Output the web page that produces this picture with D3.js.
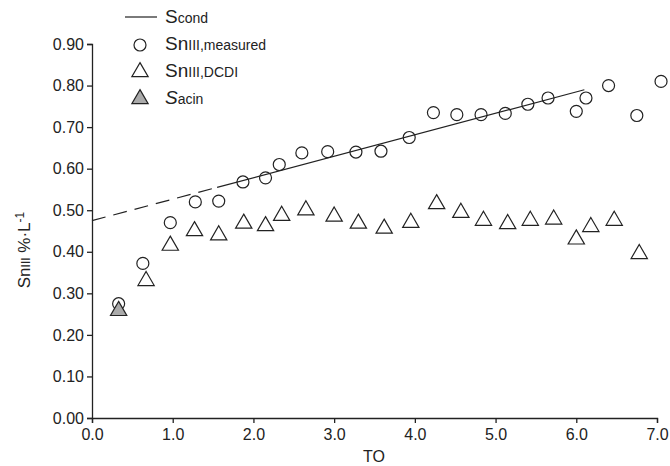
<!DOCTYPE html>
<html><head><meta charset="utf-8">
<script src="https://cdn.jsdelivr.net/npm/d3@7"></script>
<style>body{margin:0;background:#fff}text{font-family:"Liberation Sans",Arial,sans-serif;fill:#222}</style>
</head><body><svg id="c" width="670" height="466"></svg>
<script>
const measX = [0.33,0.63,0.97,1.28,1.57,1.87,2.15,2.32,2.6,2.92,3.27,3.58,3.93,4.23,4.52,4.82,5.12,5.4,5.65,6.0,6.12,6.4,6.75,7.05];
const measY = [0.275,0.372,0.47,0.52,0.522,0.568,0.578,0.61,0.638,0.641,0.64,0.642,0.675,0.735,0.73,0.73,0.733,0.755,0.77,0.738,0.77,0.80,0.728,0.81];
const dcdiX = [0.67,0.97,1.27,1.57,1.88,2.15,2.35,2.65,3.0,3.3,3.62,3.95,4.27,4.57,4.85,5.15,5.43,5.72,6.0,6.18,6.47,6.78];
const dcdiY = [0.33,0.415,0.45,0.44,0.468,0.462,0.487,0.50,0.485,0.468,0.456,0.47,0.515,0.494,0.475,0.467,0.475,0.478,0.43,0.46,0.475,0.395];
const acin = [[0.33,0.258]];
const condSolid = [[1.55,0.555],[6.1,0.79]];
const condDash = [[0,0.475],[1.55,0.555]];
const xTicks = [0,1,2,3,4,5,6,7];
const yTicks = [0,0.1,0.2,0.3,0.4,0.5,0.6,0.7,0.8,0.9];

const svg = d3.select("#c");
const x = d3.scaleLinear().domain([0,7]).range([92,657]);
const y = d3.scaleLinear().domain([0,0.9]).range([418,44]);

svg.append("g").attr("transform","translate(0,418)")
  .call(d3.axisBottom(x).tickValues(xTicks).tickFormat(d3.format(".1f")).tickSizeOuter(0).tickSize(5))
  .call(g=>g.selectAll("text").style("font-size","16px").attr("dy","0.9em"));
svg.append("g").attr("transform","translate(92,0)")
  .call(d3.axisLeft(y).tickValues(yTicks).tickFormat(d3.format(".2f")).tickSizeOuter(0).tickSize(5))
  .call(g=>g.selectAll("text").style("font-size","16px"));
svg.selectAll(".domain,.tick line").attr("stroke","#222").attr("stroke-width",1.3);

const line = d3.line().x(d=>x(d[0])).y(d=>y(d[1]));
svg.append("path").attr("d",line(condDash)).attr("fill","none").attr("stroke","#222").attr("stroke-width",1.2).attr("stroke-dasharray","14,8");
svg.append("path").attr("d",line(condSolid)).attr("fill","none").attr("stroke","#222").attr("stroke-width",1.2);

svg.append("g").selectAll("circle").data(measX).join("circle")
  .attr("cx",d=>x(d)).attr("cy",(d,i)=>y(measY[i])).attr("r",6)
  .attr("fill","none").attr("stroke","#222").attr("stroke-width",1.2);
const tri = d3.symbol().type(d3.symbolTriangle).size(115);
svg.append("g").selectAll("path").data(dcdiX).join("path")
  .attr("d",tri).attr("transform",(d,i)=>`translate(${x(d)},${y(dcdiY[i])})`)
  .attr("fill","#fff").attr("stroke","#222").attr("stroke-width",1.2);
svg.append("g").selectAll("path").data(acin).join("path")
  .attr("d",tri).attr("transform",d=>`translate(${x(d[0])},${y(d[1])})`)
  .attr("fill","#aaa").attr("stroke","#222").attr("stroke-width",1.2);

// legend
const lg = svg.append("g");
lg.append("line").attr("x1",125).attr("x2",157).attr("y1",17).attr("y2",17).attr("stroke","#222").attr("stroke-width",1.2);
lg.append("circle").attr("cx",140).attr("cy",45).attr("r",6).attr("fill","none").attr("stroke","#222").attr("stroke-width",1.2);
lg.append("path").attr("d",tri).attr("transform","translate(140,72)").attr("fill","#fff").attr("stroke","#222").attr("stroke-width",1.2);
lg.append("path").attr("d",tri).attr("transform","translate(140,99)").attr("fill","#aaa").attr("stroke","#222").attr("stroke-width",1.2);
const labels = [["S","cond",false],["Sn","III,measured",false],["Sn","III,DCDI",false],["S","acin",true]];
labels.forEach((l,i)=>{
  const t = lg.append("text").attr("x",165).attr("y",23+i*27);
  t.append("tspan").text(l[0]).style("font-size","19px").style("font-style",l[2]?"italic":"normal");
  t.append("tspan").text(l[1]).style("font-size","14px");
});

svg.append("text").attr("x",374).attr("y",462).attr("text-anchor","middle").style("font-size","16px").text("TO");
const yl = svg.append("text").attr("transform","translate(30,250) rotate(-90)").attr("text-anchor","middle");
yl.append("tspan").text("Sn").style("font-size","17px");
yl.append("tspan").text("III").style("font-size","12px");
yl.append("tspan").text(" %·L").style("font-size","17px");
yl.append("tspan").text("-1").attr("dy","-6").style("font-size","12px");
</script></body></html>
